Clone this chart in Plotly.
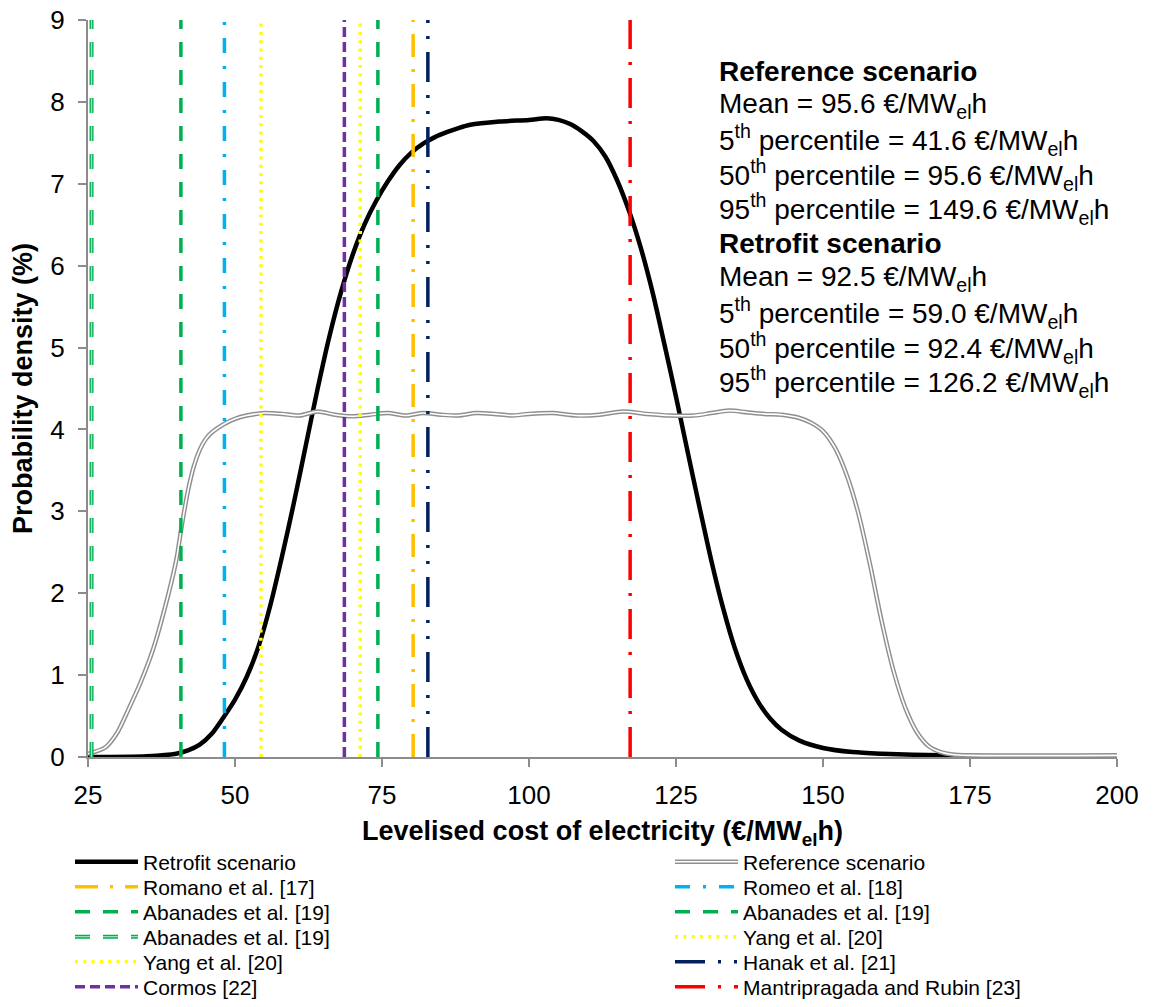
import plotly.graph_objects as go

# ---------------- data ----------------
# Retrofit scenario probability density (%), x = LCOE (EUR/MWel h)
retro_x = [25, 35, 40, 42, 44, 46, 48, 50, 52, 54, 56, 58, 60, 62, 64, 66, 68, 70,
           72, 74, 76, 78, 80, 82, 84, 86, 88, 90, 95, 100, 103, 105, 107, 109,
           111, 113, 115, 117, 119, 121, 123, 125, 127, 129, 131, 133, 135, 137,
           139, 141, 143, 146, 150, 155, 160, 170, 180, 200]
retro_y = [0.0, 0.01, 0.04, 0.08, 0.15, 0.28, 0.48, 0.7, 0.98, 1.35, 1.85, 2.45,
           3.1, 3.79, 4.48, 5.12, 5.67, 6.13, 6.5, 6.79, 7.03, 7.23, 7.38, 7.49,
           7.57, 7.63, 7.68, 7.72, 7.76, 7.78, 7.8, 7.78, 7.73, 7.64, 7.52, 7.33,
           7.04, 6.67, 6.22, 5.68, 5.05, 4.4, 3.72, 3.05, 2.4, 1.82, 1.33, 0.95,
           0.67, 0.47, 0.33, 0.2, 0.11, 0.06, 0.04, 0.02, 0.01, 0.0]

# Reference scenario probability density (%)
ref_x = [25, 26, 28, 30, 32, 34, 36, 38, 40, 41, 42, 43, 44, 45, 46, 48, 50, 52,
         55, 58, 61, 64, 67, 70, 73, 76, 79, 82, 85, 88, 91, 94, 97, 100, 104,
         108, 112, 116, 120, 124, 128, 131, 134, 137, 140, 143, 146, 148, 150,
         152, 154, 156, 158, 160, 162, 164, 166, 168, 170, 172, 175, 200]
ref_y = [0.04, 0.06, 0.12, 0.3, 0.6, 0.92, 1.3, 1.8, 2.4, 2.85, 3.25, 3.55, 3.75,
         3.88, 3.96, 4.06, 4.13, 4.17, 4.2, 4.19, 4.17, 4.22, 4.18, 4.16, 4.18,
         4.2, 4.17, 4.2, 4.18, 4.17, 4.2, 4.19, 4.17, 4.19, 4.2, 4.17, 4.18,
         4.22, 4.19, 4.17, 4.17, 4.2, 4.23, 4.21, 4.19, 4.18, 4.14, 4.08, 3.98,
         3.78, 3.45, 2.98, 2.35, 1.65, 1.05, 0.6, 0.3, 0.13, 0.06, 0.03, 0.02, 0.02]

# Literature LCOE values shown as vertical lines
study_names = ["Romano et al. [17]", "Romeo et al. [18]", "Abanades et al. [19]",
               "Abanades et al. [19]", "Abanades et al. [19]", "Yang et al. [20]",
               "Yang et al. [20]", "Hanak et al. [21]", "Cormos [22]",
               "Mantripragada and Rubin [23]"]
study_lcoe = [80.3, 48.2, 40.8, 74.3, 25.6, 71.3, 54.4, 82.8, 68.6, 117.2]

y_span = [0, 9]
x_ticks = [25, 50, 75, 100, 125, 150, 175, 200]
y_ticks = [0, 1, 2, 3, 4, 5, 6, 7, 8, 9]

stats_lines = [
    "<b>Reference scenario</b>",
    "Mean = 95.6 €/MW<sub>el</sub>h",
    "5<sup>th</sup> percentile = 41.6 €/MW<sub>el</sub>h",
    "50<sup>th</sup> percentile = 95.6 €/MW<sub>el</sub>h",
    "95<sup>th</sup> percentile = 149.6 €/MW<sub>el</sub>h",
    "<b>Retrofit scenario</b>",
    "Mean = 92.5 €/MW<sub>el</sub>h",
    "5<sup>th</sup> percentile = 59.0 €/MW<sub>el</sub>h",
    "50<sup>th</sup> percentile = 92.4 €/MW<sub>el</sub>h",
    "95<sup>th</sup> percentile = 126.2 €/MW<sub>el</sub>h",
]

# ---------------- styling ----------------
FONT = "Liberation Sans, Arial, sans-serif"
W, H = 1158, 1007
PL, PR, PT, PB = 88, 1117, 20, 757   # plot area in pixels

def px2x(px):
    return (px - PL) / (PR - PL)

def px2y(py):
    return (PB - py) / (PB - PT)

study_styles = [
    dict(color="#FFC000", dash="23px,12px,3px,12px", width=3.5),            # Romano
    dict(color="#00B0F0", dash="15px,13px,3px,13px", width=3.5),            # Romeo
    dict(color="#00B050", dash="15px,13px", width=3.5),                     # Abanades
    dict(color="#00B050", dash="15px,13px", width=3.5),                     # Abanades
    dict(color="#00B050", dash="15px,13px", width=4),                       # Abanades (double)
    dict(color="#FFFF00", dash="3px,5.3px", width=3.5),                     # Yang
    dict(color="#FFFF00", dash="3px,5.3px", width=3.5),                     # Yang
    dict(color="#002060", dash="30px,13px,3px,13px,3px,13px", width=3.5),   # Hanak
    dict(color="#7030A0", dash="10px,5px", width=3.5),                      # Cormos
    dict(color="#FF0000", dash="30px,13px,3px,13px", width=3.5),            # Mantripragada
]
# legend slot (column, row) for each study
study_slots = [(0, 1), (1, 1), (0, 2), (1, 2), (0, 3), (1, 3), (0, 4), (1, 4), (0, 5), (1, 5)]

col_px = [70, 670]
row_centers = [861.7, 886.7, 911.7, 936.7, 961.7, 986.7]
LEG_FONT = 21
ITEM_W = 63

fig = go.Figure()
legend_layouts = {}
legend_counter = [0]

def new_legend(col, row):
    legend_counter[0] += 1
    lid = "legend" if legend_counter[0] == 1 else "legend%d" % legend_counter[0]
    h = LEG_FONT * 1.3 + 3
    top = row_centers[row] - (5 + h / 2)
    legend_layouts[lid] = dict(
        x=px2x(col_px[col]), y=px2y(top), xanchor="left", yanchor="top",
        xref="paper", yref="paper",
        bgcolor="rgba(0,0,0,0)", borderwidth=0,
        font=dict(family=FONT, size=LEG_FONT, color="#000000"),
        itemwidth=ITEM_W, orientation="v",
    )
    return lid

# Retrofit scenario
fig.add_trace(go.Scatter(x=retro_x, y=retro_y, mode="lines", name="Retrofit scenario",
                         line=dict(color="#000000", width=4.5, shape="spline", smoothing=0.8),
                         legend=new_legend(0, 0)))
# Reference scenario (double line: grey outer + white inner)
fig.add_trace(go.Scatter(x=ref_x, y=ref_y, mode="lines", name="Reference scenario",
                         line=dict(color="#8F8F8F", width=4.5, shape="spline", smoothing=0.8),
                         legend=new_legend(1, 0)))
fig.add_trace(go.Scatter(x=ref_x, y=ref_y, mode="lines", name="",
                         line=dict(color="#FFFFFF", width=1.6, shape="spline", smoothing=0.8),
                         legend=new_legend(1, 0), hoverinfo="skip"))

# Vertical literature lines
for i, (nm, v) in enumerate(zip(study_names, study_lcoe)):
    st = study_styles[i]
    col, row = study_slots[i]
    fig.add_trace(go.Scatter(x=[v, v], y=y_span, mode="lines", name=nm,
                             line=dict(color=st["color"], width=st["width"], dash=st["dash"]),
                             legend=new_legend(col, row)))
    if i == 4:  # compound (double) line style
        fig.add_trace(go.Scatter(x=[v, v], y=y_span, mode="lines", name="",
                                 line=dict(color="#9FE0BC", width=1.3, dash=st["dash"]),
                                 legend=new_legend(col, row), hoverinfo="skip"))

# Statistics text block
line_centers = [71 + 34.6 * k for k in range(len(stats_lines))]
annotations = []
for txt, cy in zip(stats_lines, line_centers):
    annotations.append(dict(
        text=txt, x=px2x(717), y=px2y(cy), xref="paper", yref="paper",
        xanchor="left", yanchor="middle", showarrow=False, align="left",
        font=dict(family=FONT, size=28, color="#000000")))

axis_common = dict(
    showline=True, linecolor="#8C8C8C", linewidth=2,
    ticks="outside", ticklen=8, tickwidth=2, tickcolor="#8C8C8C",
    showgrid=False, zeroline=False,
    tickfont=dict(family=FONT, size=26, color="#000000"),
)

fig.update_layout(
    width=W, height=H,
    margin=dict(l=PL, r=W - PR, t=PT, b=H - PB, autoexpand=False),
    plot_bgcolor="#FFFFFF", paper_bgcolor="#FFFFFF",
    xaxis=dict(range=[25, 200], tickvals=x_ticks, ticklabelstandoff=6,
               title=dict(text="<b>Levelised cost of electricity (€/MW<sub>el</sub>h)</b>",
                          font=dict(family=FONT, size=27, color="#000000"), standoff=12),
               **axis_common),
    yaxis=dict(range=y_span, tickvals=y_ticks, ticklabelstandoff=8,
               title=dict(text="<b>Probability density (%)</b>",
                          font=dict(family=FONT, size=27, color="#000000"), standoff=10),
               **axis_common),
    annotations=annotations,
    showlegend=True,
    **legend_layouts,
)

fig.write_html("out.html")
